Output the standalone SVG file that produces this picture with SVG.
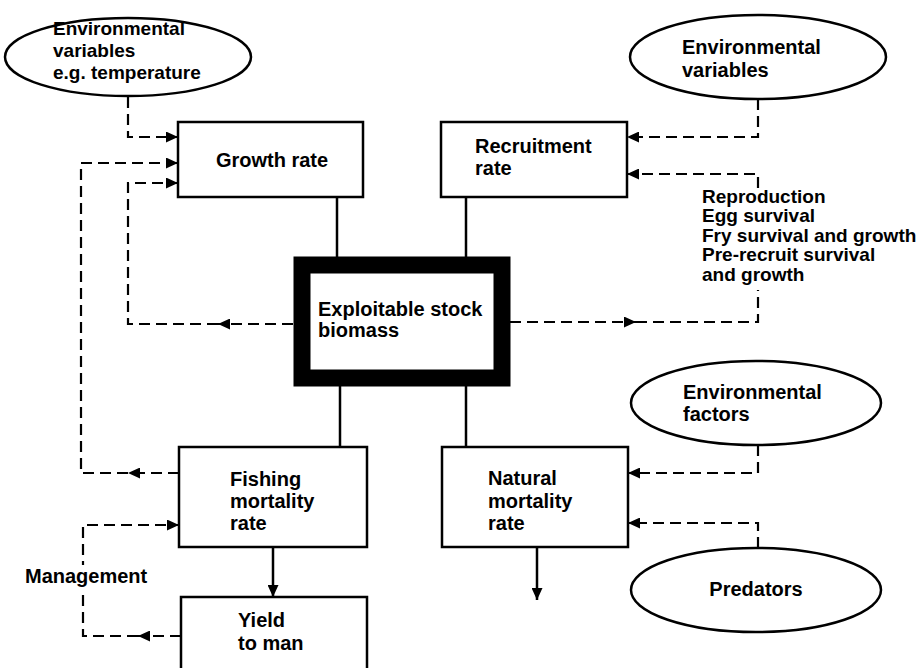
<svg xmlns="http://www.w3.org/2000/svg" width="920" height="668" viewBox="0 0 920 668">
<defs>
<marker id="arr" markerUnits="userSpaceOnUse" markerWidth="13" markerHeight="11" refX="12" refY="5.5" orient="auto">
<path d="M0,0 L12,5.5 L0,11 z" fill="#000"/>
</marker>
<style>
.box{fill:#fff;stroke:#000;stroke-width:2.5}
.ell{fill:#fff;stroke:#000;stroke-width:2.5}
.thick{fill:#fff;stroke:#000;stroke-width:17}
.t{font-family:"Liberation Sans",Arial,sans-serif;font-size:20px;font-weight:bold;fill:#000}
.sm{font-size:19px}
.s{fill:none;stroke:#000;stroke-width:2.5}
.d{fill:none;stroke:#000;stroke-width:2.2;stroke-dasharray:11 6}
</style>
</defs>
<rect width="920" height="668" fill="#fff"/>
<g id="connectors">
<line class="s" x1="337" y1="197" x2="337" y2="257"/>
<line class="s" x1="466" y1="197" x2="466" y2="257"/>
<line class="s" x1="340" y1="386" x2="340" y2="447"/>
<line class="s" x1="466" y1="386" x2="466" y2="447"/>
<line class="s" x1="273" y1="547" x2="273" y2="597" marker-end="url(#arr)"/>
<line class="s" x1="537" y1="547" x2="537" y2="600" marker-end="url(#arr)"/>
<path class="d" d="M128,97 V137 H178" marker-end="url(#arr)"/>
<path class="d" d="M179,473 H128" marker-end="url(#arr)"/>
<path class="d" d="M128,473 H81 V163 H178" marker-end="url(#arr)"/>
<path class="d" d="M293,324 H218" marker-end="url(#arr)"/>
<path class="d" d="M218,324 H128 V183 H178" marker-end="url(#arr)"/>
<path class="d" d="M758,99 V137 H627" marker-end="url(#arr)"/>
<path class="d" d="M758,188 V174 H627" marker-end="url(#arr)"/>
<path class="d" d="M510,322 H636" marker-end="url(#arr)"/>
<path class="d" d="M636,322 H758 V290"/>
<path class="d" d="M758,445 V473 H628" marker-end="url(#arr)"/>
<path class="d" d="M758,548 V523 H628" marker-end="url(#arr)"/>
<path class="d" d="M181,636 H138" marker-end="url(#arr)"/>
<path class="d" d="M138,636 H83 V525 H179" marker-end="url(#arr)"/>
<rect x="22" y="565" width="126" height="24" fill="#fff"/>
<text class="t" x="25" y="583">Management</text>
</g>
<g id="env-temp">
<ellipse class="ell" cx="128" cy="57" rx="123" ry="39"/>
<text class="t sm" x="53" y="35">Environmental</text>
<text class="t sm" x="53" y="57">variables</text>
<text class="t sm" x="53" y="79">e.g. temperature</text>
</g>
<g id="env-vars">
<ellipse class="ell" cx="758" cy="57" rx="128" ry="42"/>
<text class="t" x="682" y="54">Environmental</text>
<text class="t" x="682" y="77">variables</text>
</g>
<g id="growth">
<rect class="box" x="178" y="122" width="185" height="75"/>
<text class="t" x="272" y="167" text-anchor="middle">Growth rate</text>
</g>
<g id="recruitment">
<rect class="box" x="441" y="122" width="186" height="75"/>
<text class="t" x="475" y="153">Recruitment</text>
<text class="t" x="475" y="175">rate</text>
</g>
<g id="recruit-factors">
<text class="t sm" x="702" y="203">Reproduction</text>
<text class="t sm" x="702" y="222">Egg survival</text>
<text class="t sm" x="702" y="242">Fry survival and growth</text>
<text class="t sm" x="702" y="261">Pre-recruit survival</text>
<text class="t sm" x="702" y="281">and growth</text>
</g>
<g id="stock">
<rect class="thick" x="302" y="265" width="200" height="113"/>
<text class="t" x="318" y="316">Exploitable stock</text>
<text class="t" x="318" y="337">biomass</text>
</g>
<g id="env-factors">
<ellipse class="ell" cx="756" cy="403" rx="125" ry="42"/>
<text class="t" x="683" y="399">Environmental</text>
<text class="t" x="683" y="421">factors</text>
</g>
<g id="fishing">
<rect class="box" x="179" y="447" width="188" height="100"/>
<text class="t" x="230" y="486">Fishing</text>
<text class="t" x="230" y="508">mortality</text>
<text class="t" x="230" y="530">rate</text>
</g>
<g id="natural">
<rect class="box" x="442" y="447" width="186" height="100"/>
<text class="t" x="488" y="485">Natural</text>
<text class="t" x="488" y="508">mortality</text>
<text class="t" x="488" y="530">rate</text>
</g>
<g id="predators">
<ellipse class="ell" cx="756" cy="590" rx="125" ry="42"/>
<text class="t" x="756" y="596" text-anchor="middle">Predators</text>
</g>
<g id="yield">
<rect class="box" x="181" y="597" width="186" height="80"/>
<text class="t" x="238" y="627">Yield</text>
<text class="t" x="238" y="650">to man</text>
</g>
</svg>
